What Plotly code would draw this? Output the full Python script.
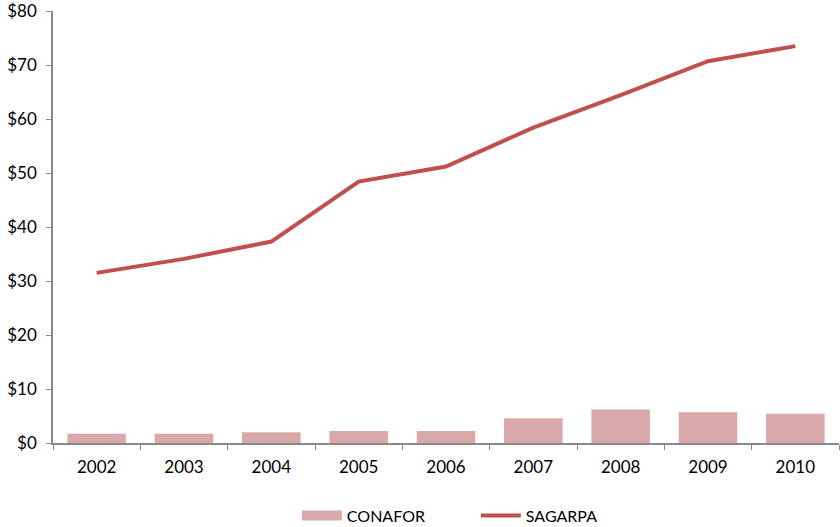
import plotly.graph_objects as go

years = ["2002", "2003", "2004", "2005", "2006", "2007", "2008", "2009", "2010"]
conafor = [1.7, 1.7, 2.0, 2.2, 2.2, 4.6, 6.2, 5.7, 5.4]
sagarpa = [31.5, 34.1, 37.3, 48.4, 51.2, 58.4, 64.4, 70.7, 73.5]
y_ticks = [0, 10, 20, 30, 40, 50, 60, 70, 80]
y_labels = ["$0", "$10", "$20", "$30", "$40", "$50", "$60", "$70", "$80"]

font = "Lato, 'Open Sans', sans-serif"
bar_color = "#D9A9A9"
line_color = "#C0504D"

fig = go.Figure()
fig.add_trace(go.Bar(x=years, y=conafor, name="CONAFOR", showlegend=False,
                     legendgroup="c", marker=dict(color=bar_color, line=dict(width=0))))
# legend-only entry drawn as a wide block, like the reference legend swatch
fig.add_trace(go.Scatter(x=[None], y=[None], name="CONAFOR", mode="lines",
                         legendgroup="c", line=dict(color=bar_color, width=12)))
fig.add_trace(go.Scatter(x=years, y=sagarpa, name="SAGARPA", mode="lines",
                         line=dict(color=line_color, width=4)))

fig.update_layout(
    width=840, height=527,
    margin=dict(l=53, r=1, t=11, b=84, autoexpand=False),
    paper_bgcolor="white", plot_bgcolor="white",
    font=dict(family=font, size=17, color="#000000"),
    bargap=0.33,
    showlegend=True,
    legend=dict(orientation="h", x=0.538, xanchor="center", y=-0.168, yanchor="middle",
                font=dict(size=16), traceorder="normal", itemwidth=40,
                entrywidth=124, entrywidthmode="pixels", tracegroupgap=0),
    xaxis=dict(type="category", showline=True, linecolor="#888888", linewidth=1.5,
               ticks="outside", tickson="boundaries", ticklen=5, tickcolor="#888888",
               showgrid=False, tickfont=dict(size=17), automargin=False,
               ticklabelstandoff=8, ticklabeloverflow="allow"),
    yaxis=dict(range=[0, 80], tickvals=y_ticks, ticktext=y_labels, showline=True,
               linecolor="#888888", linewidth=1.5, ticks="outside", ticklen=5,
               tickcolor="#888888", showgrid=False, zeroline=False,
               tickfont=dict(size=17), automargin=False, ticklabelstandoff=6,
               ticklabeloverflow="allow"),
)

fig.write_html("out.html", config={"displayModeBar": False},
               post_script="document.body.style.margin='0';document.body.style.overflow='hidden';")
